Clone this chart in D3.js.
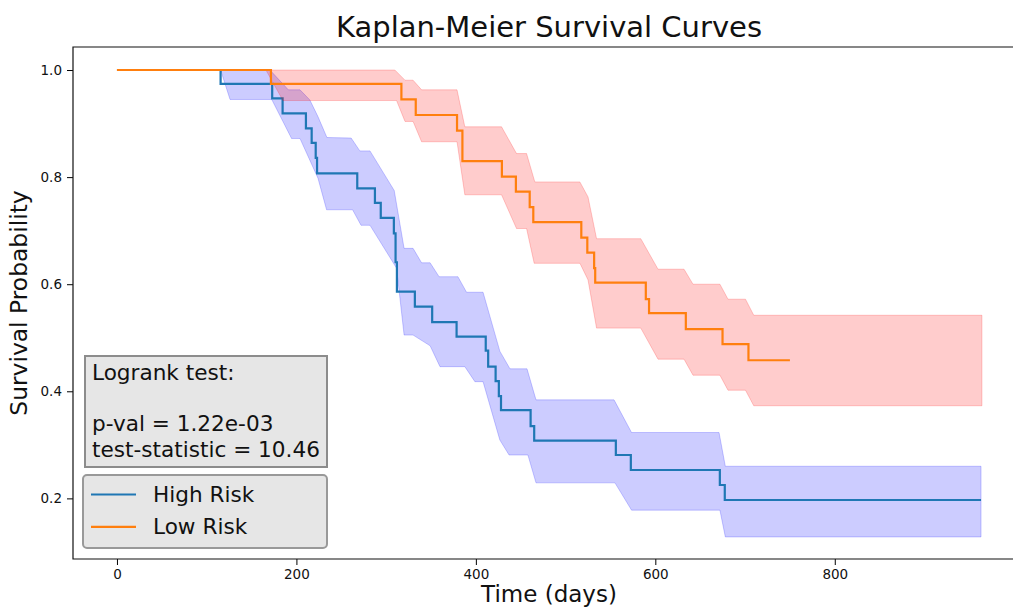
<!DOCTYPE html>
<html>
<head>
<meta charset="utf-8">
<script src="https://cdn.jsdelivr.net/npm/d3@7"></script>
<style>
  body { margin: 0; background: #fff; }
  text { font-family: "DejaVu Sans", sans-serif; }
</style>
</head>
<body>
<svg id="chart" width="1013" height="610"></svg>
<script>
// Kaplan-Meier estimates: [time (days), survival probability] at each step
const highRiskSteps = [
  [0, 1.0], [115.5, 0.974], [173, 0.947], [184.6, 0.919], [210.6, 0.891],
  [217, 0.864], [221.5, 0.836], [223, 0.807], [267.8, 0.779], [287.5, 0.752],
  [294, 0.724], [308.6, 0.695], [310.5, 0.641], [312, 0.586], [332, 0.558],
  [351.3, 0.529], [378.5, 0.502], [411, 0.476], [413.7, 0.446], [422, 0.419],
  [425.6, 0.391], [428, 0.365], [461, 0.335], [465, 0.308], [556, 0.281],
  [572.7, 0.253], [671.9, 0.225], [677.4, 0.197], [963, 0.197]
];
const lowRiskSteps = [
  [0, 1.0], [171.6, 0.974], [317, 0.945], [333, 0.916], [379, 0.887],
  [385, 0.830], [429, 0.801], [444.6, 0.773], [460, 0.744], [464, 0.716],
  [517.5, 0.687], [524.2, 0.659], [531.8, 0.630], [533, 0.603], [589.4, 0.572],
  [593, 0.546], [634, 0.516], [674.9, 0.488], [703.8, 0.458], [750, 0.458]
];

// 95% confidence band edges: [time (days), bound]
const highRiskUpper = [
  [0, 1.0], [170.5, 1.0], [191, 0.963], [204, 0.963], [215, 0.944], [224, 0.913],
  [234, 0.874], [261, 0.873], [270.7, 0.849], [282, 0.849], [309, 0.775],
  [320, 0.667], [330, 0.667], [339.5, 0.640], [349, 0.640], [359, 0.614],
  [380, 0.614], [389.6, 0.585], [408, 0.585], [426.7, 0.475], [438, 0.442],
  [457, 0.442], [467, 0.384], [554, 0.384], [573.5, 0.323], [671, 0.323],
  [678, 0.260], [963, 0.260]
];
const highRiskLower = [
  [0, 1.0], [115.5, 1.0], [126, 0.945], [172.5, 0.945], [194.6, 0.872],
  [204, 0.872], [224, 0.798], [233.6, 0.739], [262.6, 0.739], [272, 0.710],
  [282, 0.710], [311.6, 0.630], [320, 0.505], [330, 0.505], [349, 0.485],
  [360, 0.446], [387.7, 0.446], [398.9, 0.418], [408, 0.418], [426.7, 0.309],
  [437, 0.281], [458, 0.281], [467, 0.229], [555, 0.229], [573.5, 0.178],
  [672, 0.178], [678, 0.128], [963, 0.128]
];
const lowRiskUpper = [
  [0, 1.0], [309.7, 1.0], [321, 0.981], [330, 0.981], [339.5, 0.963],
  [379, 0.963], [387.7, 0.894], [428.6, 0.894], [445.3, 0.844], [456.5, 0.844],
  [465.7, 0.791], [515.9, 0.791], [525, 0.763], [534.5, 0.685], [583.8, 0.685],
  [603, 0.628], [632, 0.628], [642, 0.600], [672, 0.600], [681, 0.572],
  [700.5, 0.572], [709.7, 0.542], [964, 0.542]
];
const lowRiskLower = [
  [0, 1.0], [166, 1.0], [185, 0.943], [311.6, 0.943], [321, 0.904],
  [330, 0.904], [339.5, 0.866], [379, 0.866], [387.7, 0.767], [428.6, 0.767],
  [445.3, 0.704], [456.5, 0.704], [465, 0.639], [516, 0.639], [525, 0.608],
  [534.5, 0.518], [583.8, 0.518], [603, 0.460], [632, 0.460], [642, 0.430],
  [672, 0.430], [681, 0.402], [700.5, 0.402], [709.7, 0.373], [964, 0.373]
];

const xTicks = [0, 200, 400, 600, 800];
const yTicks = [0.2, 0.4, 0.6, 0.8, 1.0];
const seriesNames = ["High Risk", "Low Risk"];
const logrankLines = ["Logrank test:", "", "p-val = 1.22e-03", "test-statistic = 10.46"];

const svg = d3.select("#chart");
const plot = { left: 73, right: 1025, top: 47, bottom: 559 };

const x = d3.scaleLinear().domain([-49, 1012]).range([plot.left, plot.right]);
const y = d3.scaleLinear().domain([0.0868, 1.043]).range([plot.bottom, plot.top]);

svg.append("defs").append("clipPath").attr("id", "plot-clip")
  .append("rect")
  .attr("x", plot.left).attr("y", plot.top)
  .attr("width", plot.right - plot.left).attr("height", plot.bottom - plot.top);

const area = svg.append("g").attr("clip-path", "url(#plot-clip)");

const edge = d3.line().x(d => x(d[0])).y(d => y(d[1]));
const step = d3.line().x(d => x(d[0])).y(d => y(d[1])).curve(d3.curveStepAfter);

function band(upper, lower, color) {
  area.append("path")
    .attr("d", edge(upper.concat(lower.slice().reverse())) + "Z")
    .attr("fill", color).attr("fill-opacity", 0.2)
    .attr("stroke", color).attr("stroke-opacity", 0.2).attr("stroke-width", 1);
}
function curve(data, color) {
  area.append("path")
    .attr("d", step(data))
    .attr("fill", "none").attr("stroke", color).attr("stroke-width", 2.2);
}

band(highRiskUpper, highRiskLower, "#0000ff");
curve(highRiskSteps, "#1f77b4");
band(lowRiskUpper, lowRiskLower, "#ff0000");
curve(lowRiskSteps, "#ff7f0e");

// axes
const xAxis = svg.append("g").attr("transform", `translate(0,${plot.bottom})`)
  .call(d3.axisBottom(x).tickValues(xTicks).tickFormat(d3.format("d")).tickSize(6).tickPadding(4));
const yAxis = svg.append("g").attr("transform", `translate(${plot.left},0)`)
  .call(d3.axisLeft(y).tickValues(yTicks).tickFormat(d3.format(".1f")).tickSize(6).tickPadding(5));
[xAxis, yAxis].forEach(g => {
  g.select(".domain").remove();
  g.selectAll(".tick line").attr("stroke", "#000").attr("stroke-width", 1);
  g.selectAll(".tick text").attr("fill", "#111").style("font-size", "13.5px")
    .style("font-family", "'DejaVu Sans', sans-serif");
});

// spines
svg.append("path")
  .attr("d", `M${plot.left},${plot.top}V${plot.bottom}H${plot.right}V${plot.top}Z`)
  .attr("fill", "none").attr("stroke", "#111").attr("stroke-width", 1.2);

// title and axis labels
svg.append("text").attr("x", (plot.left + plot.right) / 2).attr("y", 37)
  .attr("text-anchor", "middle").style("font-size", "29px").attr("fill", "#111")
  .text("Kaplan-Meier Survival Curves");
svg.append("text").attr("x", (plot.left + plot.right) / 2).attr("y", 602)
  .attr("text-anchor", "middle").style("font-size", "23px").attr("fill", "#111")
  .text("Time (days)");
svg.append("text")
  .attr("transform", `translate(27,${(plot.top + plot.bottom) / 2}) rotate(-90)`)
  .attr("text-anchor", "middle").style("font-size", "23.4px").attr("fill", "#111")
  .text("Survival Probability");

// logrank annotation box
svg.append("rect").attr("x", 85).attr("y", 356).attr("width", 242).attr("height", 111)
  .attr("fill", "#e6e6e6").attr("stroke", "#8c8c8c").attr("stroke-width", 2);
const note = svg.append("text").style("font-size", "21.6px").attr("fill", "#111");
logrankLines.forEach((line, i) => {
  note.append("tspan").attr("x", 92).attr("y", 380 + i * 25.6).text(line);
});

// legend
const legend = svg.append("g");
legend.append("rect").attr("x", 83).attr("y", 475).attr("width", 244).attr("height", 73)
  .attr("rx", 4).attr("fill", "#e6e6e6").attr("stroke", "#999").attr("stroke-width", 2);
const legendColors = ["#1f77b4", "#ff7f0e"];
seriesNames.forEach((name, i) => {
  const cy = 494.5 + i * 32.3;
  legend.append("line").attr("x1", 91).attr("x2", 136).attr("y1", cy).attr("y2", cy)
    .attr("stroke", legendColors[i]).attr("stroke-width", 2.2);
  legend.append("text").attr("x", 153).attr("y", cy + 7.5)
    .style("font-size", "21.6px").attr("fill", "#111").text(name);
});
</script>
</body>
</html>
